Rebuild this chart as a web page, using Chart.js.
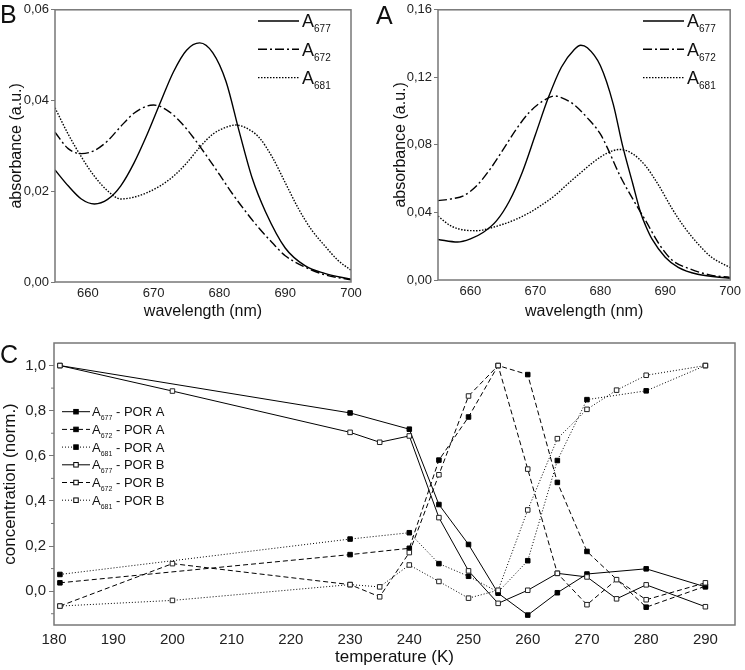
<!DOCTYPE html>
<html>
<head>
<meta charset="utf-8">
<script src="https://cdn.jsdelivr.net/npm/chart.js@4.4.1/dist/chart.umd.min.js"></script>
<style>
  body { margin: 0; background: #fff; width: 745px; height: 670px; position: relative; overflow: hidden; font-family: 'Liberation Sans', Arial, sans-serif; }
  .panel { position: absolute; }
  .letter { position: absolute; font-size: 25px; line-height: 1; color: #111; }
</style>
</head>
<body>
<div class="panel" style="left:0;top:0;width:370px;height:325px"><canvas id="chartB"></canvas></div>
<div class="panel" style="left:370px;top:0;width:375px;height:325px"><canvas id="chartA"></canvas></div>
<div class="panel" style="left:0;top:330px;width:745px;height:340px"><canvas id="chartC"></canvas></div>
<div class="letter" style="left:0;top:2px">B</div>
<div class="letter" style="left:376px;top:3px">A</div>
<div class="letter" style="left:0;top:342px">C</div>

<script>
// panel B spectra (wavelength in nm, absorbance)
const bWl677 = [655, 657, 659, 661, 663, 665, 667, 669, 671, 673, 675, 677, 679, 681, 683, 685, 687, 690, 693, 696, 700];
const bA677 = [0.0247, 0.0212, 0.0183, 0.0172, 0.0182, 0.0212, 0.0262, 0.0325, 0.0395, 0.0463, 0.0511, 0.0527, 0.0505, 0.0442, 0.0332, 0.0228, 0.0155, 0.0075, 0.0036, 0.0019, 0.0006];
const bWl672 = [655, 657, 659, 661, 663, 665, 667, 669, 670, 672, 674, 676, 678, 680, 682, 684, 686, 688, 690, 693, 696, 700];
const bA672 = [0.033, 0.0294, 0.0283, 0.029, 0.0311, 0.0343, 0.0372, 0.0388, 0.039, 0.0379, 0.0354, 0.0319, 0.0279, 0.0237, 0.0194, 0.0155, 0.0119, 0.0087, 0.0058, 0.0033, 0.0016, 0.0005];
const bWl681 = [655, 657, 659, 661, 663, 665, 667, 669, 671, 673, 675, 677, 679, 681, 682.5, 684, 686, 688, 690, 692, 694, 696, 698, 700];
const bA681 = [0.0384, 0.0326, 0.0276, 0.0233, 0.0201, 0.0183, 0.0187, 0.0197, 0.0212, 0.0233, 0.0262, 0.0297, 0.0326, 0.0341, 0.0346, 0.034, 0.0319, 0.0276, 0.0219, 0.0162, 0.0115, 0.008, 0.0048, 0.0026];

// panel A spectra
const aWl677 = [655, 658, 660, 662, 664, 666, 668, 670, 672, 674, 676, 677, 678, 680, 682, 683.4, 685, 686.2, 687, 688, 690, 692, 695, 700];
const aA677 = [0.024, 0.0225, 0.0244, 0.0283, 0.035, 0.0468, 0.064, 0.086, 0.108, 0.126, 0.1365, 0.139, 0.1375, 0.127, 0.104, 0.08, 0.057, 0.04, 0.032, 0.024, 0.0135, 0.0075, 0.0034, 0.001];
const aWl672 = [655, 657, 659, 661, 663, 665, 667, 669, 671, 673, 674, 676, 678, 680, 681, 683, 685, 687, 689, 691, 694, 697, 700];
const aA672 = [0.047, 0.048, 0.05, 0.056, 0.0655, 0.077, 0.089, 0.099, 0.1056, 0.109, 0.108, 0.1037, 0.096, 0.0865, 0.079, 0.062, 0.048, 0.035, 0.0216, 0.012, 0.0063, 0.0029, 0.0015];
const aWl681 = [655, 657, 659, 661, 663, 665, 667, 669, 671, 673, 675, 677, 679, 681, 683, 685, 687, 689, 691, 693, 695, 697, 700];
const aA681 = [0.0378, 0.032, 0.0296, 0.0292, 0.0307, 0.033, 0.0359, 0.0397, 0.0445, 0.05, 0.057, 0.0636, 0.07, 0.075, 0.0773, 0.0747, 0.0674, 0.056, 0.0426, 0.031, 0.0216, 0.0139, 0.0073];

// panel C: normalised concentrations vs temperature
const tempA = [181, 230, 240, 245, 250, 255, 260, 265, 270, 280, 290];
const tempB = [181, 200, 230, 235, 240, 245, 250, 255, 260, 265, 270, 275, 280, 290];
const c677A = [1.0, 0.79, 0.718, 0.384, 0.207, -0.009, -0.106, -0.007, 0.076, 0.099, 0.019];
const c672A = [0.037, 0.162, 0.19, 0.581, 0.772, 1.0, 0.96, 0.482, 0.176, -0.071, 0.022];
const c681A = [0.074, 0.231, 0.259, 0.122, 0.066, -0.004, 0.135, 0.579, 0.849, 0.888, 1.0];
const c677B = [1.0, 0.887, 0.704, 0.66, 0.688, 0.326, 0.09, -0.054, 0.004, 0.079, 0.063, -0.034, 0.028, -0.069];
const c672B = [-0.066, 0.122, 0.029, -0.025, 0.171, 0.516, 0.865, 1.0, 0.541, 0.079, -0.06, 0.051, -0.038, 0.037];
const c681B = [-0.066, -0.041, 0.029, 0.019, 0.116, 0.043, -0.031, 0.004, 0.36, 0.676, 0.806, 0.891, 0.957, 1.0];

const specTicksX = [660, 670, 680, 690, 700];
const bTicksY = [0, 0.02, 0.04, 0.06];
const aTicksY = [0, 0.04, 0.08, 0.12, 0.16];
const cTicksX = [180, 190, 200, 210, 220, 230, 240, 250, 260, 270, 280, 290];
const cTicksY = [0, 0.2, 0.4, 0.6, 0.8, 1.0];
const cMinorY = [-0.1, 0.1, 0.3, 0.5, 0.7, 0.9];

const FONT = "'Liberation Sans', Arial, sans-serif";
const DASH = [];
const DASHDOT = [9, 3, 2, 3];
const DOTTED = [1.5, 1.5];
const C_DASH = [5, 3];
const C_DOT = [1, 2];

Chart.defaults.font.family = FONT;
Chart.defaults.color = '#222';

const xy = (xs, ys) => xs.map((x, i) => ({ x: x, y: ys[i] }));

// frame box + minor ticks
const framePlugin = {
    id: 'frame',
    afterDatasetsDraw(chart) {
        const { ctx, chartArea: a } = chart;
        ctx.save();
        ctx.strokeStyle = '#777';
        ctx.lineWidth = 1.5;
        ctx.strokeRect(a.left, a.top, a.right - a.left, a.bottom - a.top);
        const minor = chart.options.plugins.frame && chart.options.plugins.frame.minorY;
        if (minor) {
            ctx.lineWidth = 1;
            minor.forEach(v => {
                const y = chart.scales.y.getPixelForValue(v);
                ctx.beginPath();
                ctx.moveTo(a.left - 3, y);
                ctx.lineTo(a.left, y);
                ctx.stroke();
            });
        }
        ctx.restore();
    }
};

// legend with subscripts
const subLegendPlugin = {
    id: 'subLegend',
    afterDraw(chart) {
        const o = chart.options.plugins.subLegend;
        if (!o) return;
        const ctx = chart.ctx;
        ctx.save();
        o.items.forEach((it, i) => {
            const y = o.y + i * o.dy;
            ctx.strokeStyle = '#000';
            ctx.lineWidth = o.lineWidth;
            ctx.setLineDash(it.dash);
            ctx.beginPath();
            ctx.moveTo(o.x, y);
            ctx.lineTo(o.x + o.len, y);
            ctx.stroke();
            ctx.setLineDash([]);
            if (it.marker) {
                const s = o.markerSize;
                const mx = o.x + o.len / 2;
                ctx.fillStyle = it.marker === 'filled' ? '#000' : '#fff';
                ctx.fillRect(mx - s / 2, y - s / 2, s, s);
                ctx.lineWidth = 1;
                ctx.strokeRect(mx - s / 2, y - s / 2, s, s);
            }
            let tx = o.x + o.len + o.gap;
            ctx.fillStyle = '#111';
            ctx.textBaseline = 'alphabetic';
            ctx.font = o.mainSize + 'px ' + FONT;
            const base = y + o.mainSize * 0.36;
            ctx.fillText('A', tx, base);
            tx += ctx.measureText('A').width;
            ctx.font = o.subSize + 'px ' + FONT;
            ctx.fillText(it.sub, tx, base + o.subDrop);
            tx += ctx.measureText(it.sub).width;
            if (it.tail) {
                ctx.font = o.mainSize + 'px ' + FONT;
                ctx.fillText(it.tail, tx, base);
            }
        });
        ctx.restore();
    }
};

function fixedTicks(values) {
    return axis => { axis.ticks = values.map(v => ({ value: v })); };
}

function specChart(id, sets, yMax, yTicks, yWidth, titlePad, rightPad, xHeight, legendX) {
    new Chart(document.getElementById(id), {
        type: 'line',
        data: {
            datasets: sets.map(s => ({
                data: s.data,
                borderColor: '#000',
                borderWidth: 1.4,
                borderDash: s.dash,
                pointRadius: 0,
                tension: 0.4,
                cubicInterpolationMode: 'monotone',
                fill: false
            }))
        },
        options: {
            responsive: true,
            maintainAspectRatio: false,
            animation: false,
            layout: { padding: { top: 5, right: rightPad, bottom: 4, left: 0 } },
            plugins: {
                legend: { display: false },
                tooltip: { enabled: false },
                subLegend: {
                    x: legendX, y: 21, dy: 28.3, len: 41, gap: 3, lineWidth: 1.4,
                    mainSize: 18, subSize: 10, subDrop: 5, items: [
                        { sub: '677', dash: DASH },
                        { sub: '672', dash: DASHDOT },
                        { sub: '681', dash: DOTTED }
                    ]
                }
            },
            scales: {
                x: {
                    type: 'linear', min: 655, max: 700,
                    afterBuildTicks: fixedTicks(specTicksX),
                    afterFit: s => { s.height = xHeight; },
                    grid: { display: false, drawTicks: false },
                    border: { display: false },
                    ticks: { padding: 4, font: { size: 13 }, color: '#222' },
                    title: { display: true, text: 'wavelength (nm)', font: { size: 16 }, color: '#111', padding: { top: 0, bottom: 0 } }
                },
                y: {
                    type: 'linear', min: 0, max: yMax,
                    afterBuildTicks: fixedTicks(yTicks),
                    afterFit: s => { s.width = yWidth; },
                    grid: { drawOnChartArea: false, drawTicks: true, tickLength: 4, tickColor: '#777' },
                    border: { display: false },
                    ticks: { padding: 2, font: { size: 13 }, color: '#222', callback: v => v.toFixed(2).replace('.', ',') },
                    title: { display: true, text: 'absorbance (a.u.)', font: { size: 16 }, color: '#111', padding: { top: titlePad, bottom: 0 } }
                }
            }
        },
        plugins: [framePlugin, subLegendPlugin]
    });
}

specChart('chartB', [
    { data: xy(bWl677, bA677), dash: DASH },
    { data: xy(bWl672, bA672), dash: DASHDOT },
    { data: xy(bWl681, bA681), dash: DOTTED }
], 0.06, bTicksY, 55, 7, 19, 39, 258);

specChart('chartA', [
    { data: xy(aWl677, aA677), dash: DASH },
    { data: xy(aWl672, aA672), dash: DASHDOT },
    { data: xy(aWl681, aA681), dash: DOTTED }
], 0.16, aTicksY, 68, 21, 10, 41, 273);

function cSet(label, temps, vals, dash, filled) {
    return {
        label: label,
        data: xy(temps, vals),
        borderColor: '#000',
        borderWidth: 1,
        borderDash: dash,
        pointStyle: 'rect',
        pointRadius: 3.2,
        pointBorderWidth: 1,
        pointBorderColor: filled ? '#000' : '#222',
        pointBackgroundColor: filled ? '#000' : '#fff',
        tension: 0,
        fill: false
    };
}

new Chart(document.getElementById('chartC'), {
    type: 'line',
    data: {
        datasets: [
            cSet('A677 - POR B', tempB, c677B, DASH, false),
            cSet('A672 - POR B', tempB, c672B, C_DASH, false),
            cSet('A681 - POR B', tempB, c681B, C_DOT, false),
            cSet('A677 - POR A', tempA, c677A, DASH, true),
            cSet('A672 - POR A', tempA, c672A, C_DASH, true),
            cSet('A681 - POR A', tempA, c681A, C_DOT, true)
        ]
    },
    options: {
        responsive: true,
        maintainAspectRatio: false,
        animation: false,
        layout: { padding: { top: 13, right: 10, bottom: 2, left: 0 } },
        plugins: {
            legend: { display: false },
            tooltip: { enabled: false },
            frame: { minorY: cMinorY },
            subLegend: {
                x: 62, y: 81.7, dy: 17.7, len: 28, gap: 2, lineWidth: 1,
                markerSize: 4.5, mainSize: 13, subSize: 7, subDrop: 4, items: [
                    { sub: '677', tail: ' - POR A', dash: DASH, marker: 'filled' },
                    { sub: '672', tail: ' - POR A', dash: C_DASH, marker: 'filled' },
                    { sub: '681', tail: ' - POR A', dash: C_DOT, marker: 'filled' },
                    { sub: '677', tail: ' - POR B', dash: DASH, marker: 'open' },
                    { sub: '672', tail: ' - POR B', dash: C_DASH, marker: 'open' },
                    { sub: '681', tail: ' - POR B', dash: C_DOT, marker: 'open' }
                ]
            }
        },
        scales: {
            x: {
                type: 'linear', min: 180, max: 295,
                afterBuildTicks: fixedTicks(cTicksX),
                afterFit: s => { s.height = 43; },
                grid: { display: false, drawTicks: false },
                border: { display: false },
                ticks: { padding: 6, font: { size: 15 }, color: '#222' },
                title: { display: true, text: 'temperature (K)', font: { size: 17 }, color: '#111', padding: { top: 0, bottom: 0 } }
            },
            y: {
                type: 'linear', min: -0.15, max: 1.1,
                afterBuildTicks: fixedTicks(cTicksY),
                afterFit: s => { s.width = 54; },
                grid: { drawOnChartArea: false, drawTicks: true, tickLength: 5, tickColor: '#777' },
                border: { display: false },
                ticks: { padding: 3, font: { size: 15 }, color: '#222', callback: v => v.toFixed(1).replace('.', ',') },
                title: { display: true, text: 'concentration (norm.)', font: { size: 17 }, color: '#111', padding: { top: 0, bottom: 0 } }
            }
        }
    },
    plugins: [framePlugin, subLegendPlugin]
});
</script>
</body>
</html>
